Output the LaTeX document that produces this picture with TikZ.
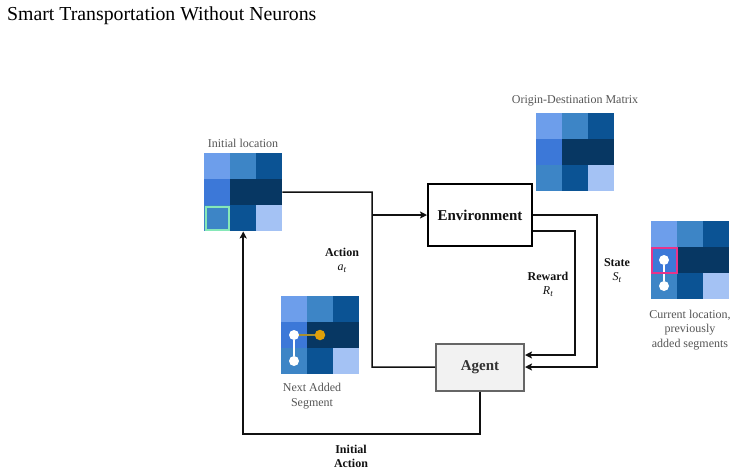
\documentclass[tikz,border=0pt]{standalone}
\usepackage{fontspec}
\setmainfont{Liberation Serif}
\usetikzlibrary{arrows.meta,calc}
\definecolor{c11}{HTML}{6D9EEB}
\definecolor{c12}{HTML}{3D85C6}
\definecolor{c13}{HTML}{0B5394}
\definecolor{c21}{HTML}{3C78D8}
\definecolor{c22}{HTML}{073763}
\definecolor{c23}{HTML}{073763}
\definecolor{c31}{HTML}{3D85C6}
\definecolor{c32}{HTML}{0B5394}
\definecolor{c33}{HTML}{A4C2F4}
\definecolor{mint}{HTML}{86E8B8}
\definecolor{pinkb}{HTML}{E8338A}
\definecolor{dotorange}{HTML}{E0A00A}
\definecolor{goldline}{HTML}{A8902F}
\definecolor{labgray}{HTML}{555555}
\definecolor{linec}{HTML}{111111}
\newcommand\gridcells[2]{%
  \foreach \c [count=\i from 0] in {c11,c12,c13,c21,c22,c23,c31,c32,c33}{%
    \pgfmathtruncatemacro\col{mod(\i,3)}%
    \pgfmathtruncatemacro\row{div(\i,3)}%
    \fill[\c] ({#1+26*\col},{#2+26*\row}) rectangle ++(26,26);
  }}
\tikzset{
  matbox/.style={minimum width=78pt,minimum height=78pt,inner sep=0pt,anchor=north west},
  caption/.style={text=labgray,font=\fontsize{12}{14.5}\selectfont,align=center,inner sep=0pt},
  edgelabel/.style={text=linec,font=\fontsize{12}{14}\selectfont,align=center,inner sep=0pt},
  conn/.style={draw=linec,line width=1.5pt},
  arr/.style={conn,-{Stealth[length=7pt,width=7pt,inset=1.5pt]}},
  envbox/.style={draw=black,line width=2pt,fill=white,minimum width=104pt,minimum height=62pt,inner sep=0pt,font=\fontsize{15}{17}\selectfont\bfseries,text=linec},
  agentbox/.style={draw=black!60,line width=2pt,fill=black!5,minimum width=88pt,minimum height=47pt,inner sep=0pt,font=\fontsize{15}{17}\selectfont\bfseries,text=black!80},
  wdot/.style={circle,fill=white,minimum size=10pt,inner sep=0pt},
  odot/.style={circle,fill=dotorange,minimum size=10.5pt,inner sep=0pt}
}
\begin{document}
\begin{tikzpicture}[x=1pt,y=-1pt]
\useasboundingbox (0,0) rectangle (737,475);
% title
\node[anchor=base west,inner sep=0pt,font=\fontsize{19.8}{22}\selectfont] (title) at (7,20) {Smart Transportation Without Neurons};

% matrices
\gridcells{204}{153}
\node[matbox] (initmat) at (204,153) {};
\draw[mint,line width=2pt] (205.5,206.5) rectangle (228.5,229.5);
\node[caption] (initcap) at (243,143) {Initial location};

\gridcells{536}{113}
\node[matbox] (odmat) at (536,113) {};
\node[caption] (odcap) at (575,101) {Origin-Destination Matrix};

\gridcells{651}{221}
\node[matbox] (curmat) at (651,221) {};
\node[wdot] (cd1) at (664,260) {};
\node[wdot] (cd2) at (664,286) {};
\draw[white,line width=1.5pt] (cd1) -- (cd2);
\draw[pinkb,line width=2pt] (652,248) rectangle (677,273);
\node[caption] (curcap) at (690,330) {Current location,\\previously\\added segments};

\gridcells{281}{296}
\node[matbox] (nextmat) at (281,296) {};
\node[wdot] (nd1) at (294,335) {};
\node[wdot] (nd2) at (294,361) {};
\node[odot] (nd3) at (320,335) {};
\draw[white,line width=1.5pt] (nd1) -- (nd2);
\draw[goldline,line width=1.5pt] (nd1) -- (nd3);
\node[caption] (nextcap) at (312,396) {Next Added\\Segment};

% boxes
\node[envbox] (env) at (480,215) {Environment};
\node[agentbox] (agent) at (480,367) {Agent};

% connectors
\coordinate (actx) at (372,192);
\coordinate (rewx) at (575,231);
\coordinate (stax) at (597,215);
\coordinate (initbot) at (480,434);
\draw[conn] (initmat.east) -- (actx) |- (agent.west);
\draw[arr] (actx |- env.west) -- (env.west);
\draw[arr] ($(env.east)+(0,16)$) -- (rewx) |- ($(agent.east)+(0,-12)$);
\draw[arr] (env.east) -- (stax) |- (agent.east);
\draw[arr] (agent.south) -- (initbot) -| (initmat.south);

% labels
\node[edgelabel] (actlab) at (342,260) {\textbf{Action}\\\textit{a}\raisebox{-2pt}{\fontsize{9}{9}\selectfont\textit{t}}};
\node[edgelabel] (rewlab) at (548,284) {\textbf{Reward}\\\textit{R}\raisebox{-2pt}{\fontsize{9}{9}\selectfont\textit{t}}};
\node[edgelabel] (stalab) at (617,271) {\textbf{State}\\\textit{S}\raisebox{-2pt}{\fontsize{9}{9}\selectfont\textit{t}}};
\node[edgelabel,font=\fontsize{12}{14}\selectfont\bfseries] (initlab) at (351,456) {Initial\\Action};
\end{tikzpicture}
\end{document}
